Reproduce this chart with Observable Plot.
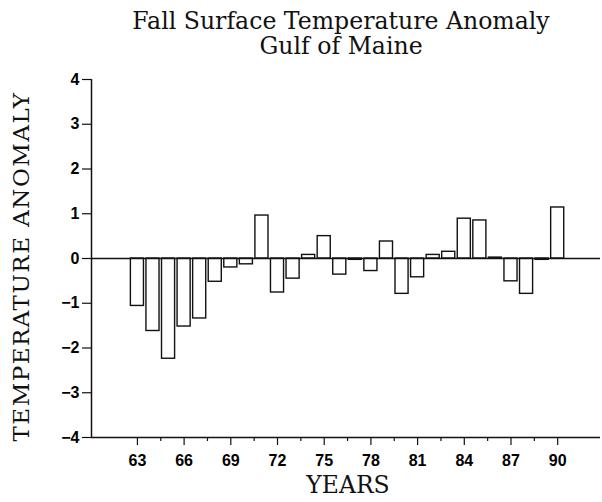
<!DOCTYPE html>
<html>
<head>
<meta charset="utf-8">
<script src="https://cdn.jsdelivr.net/npm/d3@7"></script>
<script src="https://cdn.jsdelivr.net/npm/@observablehq/plot@0.6"></script>
<style>
  body { margin: 0; background: #fff; }
  #wrap { position: relative; width: 602px; height: 502px; overflow: hidden; }
  .title { position: absolute; left: 40px; width: 602px; text-align: center; white-space: nowrap;
           font-family: "DejaVu Serif", serif; font-size: 23.6px; line-height: 22px; color: #111; }
  #t1 { top: 10px; }
  #t2 { top: 35px; }
  #wrap svg { position: absolute; top: 0; left: 0; }
</style>
</head>
<body>
<div id="wrap"></div>
<script>
const years = [63,64,65,66,67,68,69,70,71,72,73,74,75,76,77,78,79,80,81,82,83,84,85,86,87,88,89,90];
const anomalies = [-1.06,-1.62,-2.24,-1.52,-1.34,-0.52,-0.20,-0.13,0.96,-0.76,-0.45,0.08,0.50,-0.36,-0.03,-0.28,0.38,-0.79,-0.42,0.08,0.15,0.89,0.85,0.02,-0.51,-0.79,-0.03,1.14];
const xTickLabels = [63,66,69,72,75,78,81,84,87,90];
const xMinorTicks = [64.5,67.5,70.5,73.5,76.5,79.5,82.5,85.5,88.5];
const yTickLabels = [-4,-3,-2,-1,0,1,2,3,4];
const title = "Fall Surface Temperature Anomaly";
const subtitle = "Gulf of Maine";
const xLabel = "YEARS";
const yLabel = "TEMPERATURE ANOMALY";

const data = years.map((y, i) => ({year: y, value: anomalies[i]}));

const wrap = document.getElementById("wrap");

const chart = Plot.plot({
  width: 602,
  height: 502,
  marginLeft: 91,
  marginRight: 2,
  marginTop: 79,
  marginBottom: 65,
  style: {background: "transparent", color: "#000"},
  x: {domain: [60.05, 92.75]},
  y: {domain: [-4, 4]},
  marks: [
    Plot.rectY(data, {x1: d => d.year - 0.42, x2: d => d.year + 0.42, y1: 0, y2: "value",
      fill: "white", stroke: "#111", strokeWidth: 1.4}),
    Plot.ruleY([0], {stroke: "#111", strokeWidth: 1.5}),
    Plot.ruleX([60.05], {y1: -4, y2: 4, stroke: "#111", strokeWidth: 1.5}),
    Plot.ruleY([-4], {stroke: "#111", strokeWidth: 1.5}),
    Plot.axisY({ticks: yTickLabels, tickSize: 9, tickPadding: 3, label: null,
      fontSize: 16, fontFamily: "Liberation Sans, Arial, sans-serif", fontWeight: "bold",
      tickFormat: d => d < 0 ? "\u2212" + Math.abs(d) : String(d), stroke: "#111", strokeWidth: 1.2}),
    Plot.axisX({ticks: xTickLabels, tickSize: 8, tickPadding: 9, label: null,
      fontSize: 16, fontFamily: "Liberation Sans, Arial, sans-serif", fontWeight: "bold",
      stroke: "#111", strokeWidth: 1.2}),
    Plot.axisX({ticks: xMinorTicks, tickSize: 4, text: null, label: null, stroke: "#111", strokeWidth: 1.2}),
    Plot.text([yLabel], {frameAnchor: "left", textAnchor: "middle", dx: -70, dy: 8, rotate: -90, text: d => d,
      fontSize: 23, fontFamily: "DejaVu Serif, serif", fill: "#111"}),
    Plot.text([xLabel], {frameAnchor: "bottom", dy: 55, dx: 2, text: d => d,
      fontSize: 23.5, fontFamily: "DejaVu Serif, serif", fill: "#111"})
  ]
});
chart.querySelectorAll("text").forEach(t => {
  if (t.textContent === yLabel) t.setAttribute("letter-spacing", "1.5");
});
wrap.appendChild(chart);

const t1 = document.createElement("div");
t1.className = "title"; t1.id = "t1"; t1.textContent = title;
const t2 = document.createElement("div");
t2.className = "title"; t2.id = "t2"; t2.textContent = subtitle;
wrap.appendChild(t1);
wrap.appendChild(t2);
</script>
</body>
</html>
